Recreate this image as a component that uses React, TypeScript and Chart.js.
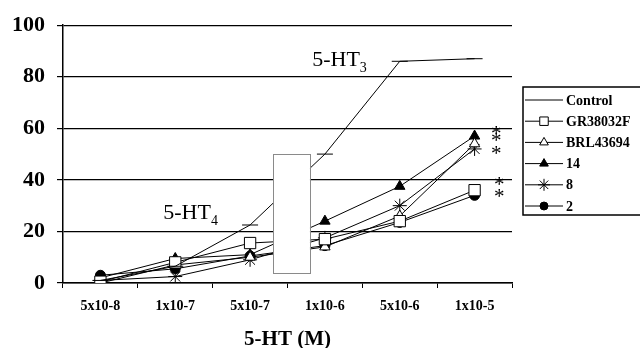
import React, { useEffect, useRef } from "react";
import { Chart, registerables } from "chart.js";
import { drawPoint } from "chart.js/helpers";

Chart.register(...registerables);

const categories = ["5x10-8", "1x10-7", "5x10-7", "1x10-6", "5x10-6", "1x10-5"];
const controlValues = [1, 6.5, 22.5, 50, 86, 87];
const gr38032fValues = [0.5, 8, 15.5, 17, 24, 36];
const brl43694Values = [0, 7, 10, 14, 26, 54];
const cmp14Values = [2, 9.5, 11, 24, 37.5, 57];
const cmp8Values = [1, 2.5, 9, 17.5, 30, 52];
const cmp2Values = [3, 5.5, 10.5, 14.5, 23.5, 34];
const seriesLabels = ["Control", "GR38032F", "BRL43694", "14", "8", "2"];
const asteriskValues = [59.2, 56.6, 51.7, 39.6, 35.1];
const asteriskIndex = [5.29, 5.29, 5.29, 5.33, 5.33];
const yTickValues = [0, 20, 40, 60, 80, 100];

const SERIF = "'Liberation Serif', 'Times New Roman', serif";

const coverBoxPlugin = {
  id: "coverBox",
  afterDatasetsDraw(chart: any) {
    const { ctx, scales } = chart;
    const x = scales.x, y = scales.y;
    const l = x.getPixelForValue(2.31);
    const r = x.getPixelForValue(2.8);
    const t = y.getPixelForValue(50.2);
    const b = y.getPixelForValue(4.2);
    ctx.save();
    ctx.fillStyle = "#ffffff";
    ctx.fillRect(l, t, r - l, b - t);
    ctx.strokeStyle = "#8a8a8a";
    ctx.lineWidth = 1;
    ctx.strokeRect(Math.round(l) + 0.5, Math.round(t) + 0.5, Math.round(r - l), Math.round(b - t));
    ctx.restore();
  },
};

const annotationPlugin = {
  id: "annot",
  afterDatasetsDraw(chart: any) {
    const { ctx, scales } = chart;
    const x = scales.x, y = scales.y;
    const drawLabel = (idx: number, val: number, sub: string) => {
      const px = x.getPixelForValue(idx);
      const py = y.getPixelForValue(val);
      ctx.save();
      ctx.fillStyle = "#000";
      ctx.textBaseline = "alphabetic";
      ctx.textAlign = "left";
      ctx.font = `22px ${SERIF}`;
      ctx.fillText("5-HT", px, py);
      const w = ctx.measureText("5-HT").width;
      ctx.font = `14px ${SERIF}`;
      ctx.fillText(sub, px + w, py + 6);
      ctx.restore();
    };
    drawLabel(2.83, 84.2, "3");
    drawLabel(0.84, 24.9, "4");
    ctx.save();
    ctx.fillStyle = "#000";
    ctx.font = `21px ${SERIF}`;
    ctx.textAlign = "center";
    ctx.textBaseline = "alphabetic";
    asteriskValues.forEach((v, i) => {
      const px = x.getPixelForValue(asteriskIndex[i]);
      const py = y.getPixelForValue(v);
      ctx.fillText("*", px, py + 10);
    });
    ctx.restore();
  },
};

const legendPlugin = {
  id: "boxLegend",
  afterDraw(chart: any) {
    const { ctx, chartArea } = chart;
    const left = chartArea.right + 11;
    const top = 87;
    const rowH = 21.2;
    ctx.save();
    ctx.strokeStyle = "#000";
    ctx.lineWidth = 1.5;
    ctx.strokeRect(left, top, chart.width - left + 30, 128);
    chart.data.datasets.forEach((ds: any, i: number) => {
      const cy = top + 13 + i * rowH;
      ctx.strokeStyle = "#000";
      ctx.lineWidth = 1;
      ctx.setLineDash([]);
      ctx.beginPath();
      ctx.moveTo(left + 2, cy);
      ctx.lineTo(left + 40, cy);
      ctx.stroke();
      if (i > 0) {
        ctx.fillStyle = ds.pointBackgroundColor;
        ctx.strokeStyle = "#000";
        const st = ds.pointStyle;
        drawPoint(ctx, {
          pointStyle: st,
          radius: st === "rect" ? 6 : st === "circle" ? 4 : st === "star" ? 6 : 5,
          rotation: 0,
          borderWidth: 1,
        } as any, left + 21, cy);
      }
      ctx.fillStyle = "#000";
      ctx.font = `bold 14px ${SERIF}`;
      ctx.textAlign = "left";
      ctx.textBaseline = "middle";
      ctx.fillText(ds.label, left + 43, cy + 1);
    });
    ctx.restore();
  },
};

export default function App() {
  const ref = useRef<HTMLCanvasElement | null>(null);
  useEffect(() => {
    if (!ref.current) return;
    const mk = (label: string, data: number[], style: string, radius: number, fill: string) => ({
      label,
      data,
      borderColor: "#000",
      borderWidth: 1,
      pointStyle: style,
      pointRadius: radius,
      pointBackgroundColor: fill,
      pointBorderColor: "#000",
      pointBorderWidth: 1,
      fill: false,
      tension: 0,
    });
    const chart = new Chart(ref.current, {
      type: "line",
      data: {
        labels: categories,
        datasets: [
          mk(seriesLabels[0], controlValues, "line", 8, "#000"),
          mk(seriesLabels[1], gr38032fValues, "rect", 8, "#fff"),
          mk(seriesLabels[2], brl43694Values, "triangle", 6, "#fff"),
          mk(seriesLabels[3], cmp14Values, "triangle", 6, "#000"),
          mk(seriesLabels[4], cmp8Values, "star", 7, "#000"),
          mk(seriesLabels[5], cmp2Values, "circle", 5, "#000"),
        ] as any,
      },
      options: {
        animation: false,
        responsive: false,
        layout: { padding: { top: 18, right: 128, left: 0, bottom: 0 } },
        plugins: { legend: { display: false }, tooltip: { enabled: false } },
        scales: {
          x: {
            type: "category",
            offset: true,
            grid: { display: true, drawOnChartArea: false, drawTicks: true, tickLength: 5, offset: true, color: "#000" },
            border: { display: true, color: "#000", width: 1.5 },
            ticks: { color: "#000", padding: 10, maxRotation: 0, font: { family: SERIF, size: 14, weight: "bold" } },
            title: { display: true, text: "5-HT (M)", color: "#000", padding: { top: 0, bottom: -2 }, font: { family: SERIF, size: 21, weight: "bold", lineHeight: 1.0 } },
            afterFit: (s: any) => { s.height = 65; },
          },
          y: {
            min: 0,
            max: 100,
            afterBuildTicks: (s: any) => { s.ticks = yTickValues.map((v) => ({ value: v })); },
            grid: { color: "#000", lineWidth: 1.2, tickLength: 6, drawTicks: true },
            border: { display: true, color: "#000", width: 1.5 },
            ticks: { color: "#000", padding: 12, font: { family: SERIF, size: 22, weight: "bold" } },
            afterFit: (s: any) => { s.width = 63; },
          },
        },
      } as any,
      plugins: [coverBoxPlugin, annotationPlugin, legendPlugin],
    });
    return () => chart.destroy();
  }, []);
  return (
    <div style={{ position: "absolute", left: 0, top: 0, width: 640, height: 348, background: "#fff" }}>
      <canvas ref={ref} width={640} height={348} />
    </div>
  );
}
